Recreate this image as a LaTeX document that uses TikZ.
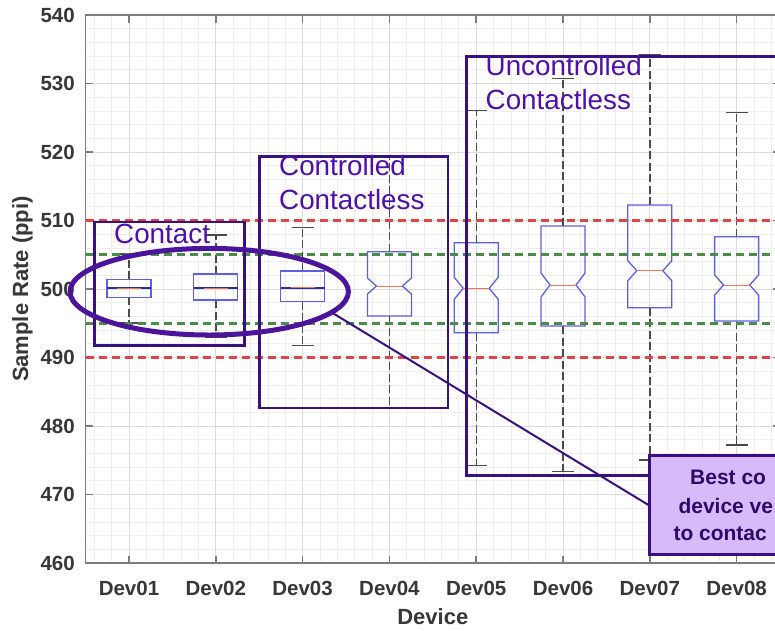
\documentclass[tikz,border=0pt]{standalone}
\usepackage{fontspec}
\setmainfont{Liberation Sans}
\usetikzlibrary{shapes.geometric}
\definecolor{gridminor}{RGB}{238,238,238}
\definecolor{gridmajor}{RGB}{220,220,220}
\definecolor{axisgrey}{RGB}{125,125,125}
\definecolor{labgrey}{RGB}{55,55,55}
\definecolor{refred}{RGB}{222,70,70}
\definecolor{refgreen}{RGB}{75,140,75}
\definecolor{boxblue}{RGB}{95,95,225}
\definecolor{medblue}{RGB}{45,45,150}
\definecolor{medred}{RGB}{240,120,90}
\definecolor{whiskgrey}{RGB}{75,75,75}
\definecolor{annoline}{RGB}{58,16,128}
\definecolor{annotext}{RGB}{78,16,168}
\definecolor{ellcol}{RGB}{75,20,155}
\definecolor{callfill}{RGB}{215,186,250}
\definecolor{calltext}{RGB}{45,10,106}
\newcommand\plainbox[6]{%
  \draw[whisk] (#1,#2) -- (#1,#5);
  \draw[whisk] (#1,#3) -- (#1,#6);
  \draw[capline] ({#1-11},#5) -- ({#1+11},#5);
  \draw[capline] ({#1-11},#6) -- ({#1+11},#6);
  \draw[boxline] ({#1-22},#2) rectangle ({#1+22},#3);
  \draw[medblue, line width=2pt] ({#1-22},#4) -- ({#1+22},#4);
  \draw[medred, line width=0.7pt] ({#1-12},#4) -- ({#1+12},#4);
}
\newcommand\notchbox[7]{%
  \draw[whisk] (#1,#2) -- (#1,#6);
  \draw[whisk] (#1,#3) -- (#1,#7);
  \draw[capline] ({#1-11},#6) -- ({#1+11},#6);
  \draw[capline] ({#1-11},#7) -- ({#1+11},#7);
  \draw[boxline] ({#1-22},#2) -- ({#1+22},#2) -- ({#1+22},{#4-#5}) -- ({#1+13},#4)
     -- ({#1+22},{#4+#5}) -- ({#1+22},#3) -- ({#1-22},#3) -- ({#1-22},{#4+#5})
     -- ({#1-13},#4) -- ({#1-22},{#4-#5}) -- cycle;
  \draw[medred, line width=1pt] ({#1-13},#4) -- ({#1+13},#4);
}
\begin{document}
\begin{tikzpicture}[x=1pt,y=-1pt,
  minorgrid/.style={gridminor, line width=0.8pt},
  majorgrid/.style={gridmajor, line width=1pt},
  axisline/.style={axisgrey, line width=1.6pt},
  ticklab/.style={text=labgrey, font=\fontsize{20.5}{24}\selectfont\bfseries, inner sep=0pt},
  axlab/.style={text=labgrey, font=\fontsize{22}{26}\selectfont\bfseries, inner sep=0pt},
  whisk/.style={whiskgrey, line width=1.4pt, dash pattern=on 8pt off 3.5pt},
  capline/.style={whiskgrey, line width=1.4pt},
  boxline/.style={boxblue, line width=1.3pt},
  redref/.style={refred, line width=2.6pt, dash pattern=on 8pt off 5pt},
  greenref/.style={refgreen, line width=2.6pt, dash pattern=on 8pt off 5pt},
  annobox/.style={draw=annoline, line width=2.5pt, inner sep=0pt},
  annolab/.style={text=annotext, font=\fontsize{27.8}{33}\selectfont, inner sep=0pt, anchor=base west},
  ellmark/.style={draw=ellcol, line width=5pt, ellipse, inner sep=0pt},
  conn/.style={draw=annoline, line width=2pt},
  calloutbox/.style={draw=annoline, fill=callfill, line width=2.5pt, inner sep=0pt},
  calllab/.style={text=calltext, font=\fontsize{21}{28}\selectfont\bfseries, inner sep=0pt, anchor=base west}
]
\useasboundingbox (0,0) rectangle (775,630);
\fill[white] (0,0) rectangle (775,630);
\begin{scope}
\clip (0,0) rectangle (775,630);
% minor grid
\foreach \k in {0,...,39} \draw[minorgrid] ({94.3+17.36*\k},15) -- ({94.3+17.36*\k},563);
\foreach \k in {1,...,39} \draw[minorgrid] (85.6,{15+13.7*\k}) -- (780,{15+13.7*\k});
% major grid
\foreach \k in {0,...,7} \draw[majorgrid] ({129+86.8*\k},15) -- ({129+86.8*\k},563);
\foreach \k in {1,...,7} \draw[majorgrid] (85.6,{15+68.5*\k}) -- (780,{15+68.5*\k});
% axes box and ticks
\draw[axisline] (85.6,15) rectangle (780,563);
\foreach \k in {0,...,7} {
  \draw[axisline] ({129+86.8*\k},563) -- ({129+86.8*\k},555.5);
  \draw[axisline] ({129+86.8*\k},15) -- ({129+86.8*\k},22.5);
}
\foreach \k in {1,...,7} {
  \draw[axisline] (85.6,{15+68.5*\k}) -- (93,{15+68.5*\k});
  \draw[axisline] (780,{15+68.5*\k}) -- (772.5,{15+68.5*\k});
}
% boxplots
\plainbox{129}{279.3}{297.3}{288.3}{254}{323}
\plainbox{215.8}{274}{300}{288.3}{235}{337.5}
\plainbox{302.6}{271}{301.7}{287.5}{227.5}{345.7}
\notchbox{389.4}{251.7}{316}{286}{8}{156.5}{407.7}
\notchbox{476.2}{242.7}{332.7}{288.3}{11}{110.7}{465.7}
\notchbox{563}{226}{326}{285}{12}{78.3}{471.7}
\notchbox{649.8}{205}{307.7}{270.7}{10}{55}{460}
\notchbox{736.6}{236.7}{321}{285}{10}{112.3}{445}
% reference lines
\draw[redref] (85.6,220.5) -- (780,220.5);
\draw[redref] (85.6,357.5) -- (780,357.5);
\draw[greenref] (85.6,254.2) -- (780,254.2);
\draw[greenref] (85.6,323.2) -- (780,323.2);
% tick labels
\foreach \v/\y in {540/15,530/83.5,520/152,510/220.5,500/289,490/357.5,480/426,470/494.5,460/563}
  \node[ticklab, anchor=east] (yl\v) at (75,\y) {\v};
\foreach \i in {1,...,8}
  \node[ticklab, anchor=base] (xl\i) at ({129+86.8*(\i-1)},595) {Dev0\i};
\node[axlab, anchor=base] (xlabel) at (432.8,624.5) {Device};
\node[axlab, rotate=90, anchor=base] (ylabel) at (28,289) {Sample Rate (ppi)};
% annotation boxes
\node[annobox, minimum width=150pt, minimum height=123.3pt, anchor=north west] (contactbox) at (93.3,220.7) {};
\node[annobox, minimum width=188.4pt, minimum height=251.7pt, anchor=north west] (ctrlbox) at (258.3,155) {};
\node[annobox, minimum width=330pt, minimum height=419pt, anchor=north west] (unctrlbox) at (465,55) {};
\node[annolab] (contactlab) at (114,243.3) {Contact};
\node[annolab] (ctrllab1) at (279,175.7) {Controlled};
\node[annolab] (ctrllab2) at (279,209) {Contactless};
\node[annolab] (unctrllab1) at (485.5,75) {Uncontrolled};
\node[annolab] (unctrllab2) at (485.5,109) {Contactless};
% highlight ellipse and callout
\node[ellmark, minimum width=278.4pt, minimum height=86.6pt] (ell) at (209.2,291.7) {};
\node[calloutbox, minimum width=170pt, minimum height=99.3pt, anchor=north west] (callout) at (648.3,454) {};
\draw[conn] (ell.-10) -- (callout.west);
\node[calllab] (call1) at (690,484.3) {Best co};
\node[calllab] (call2) at (678.3,513.3) {device ve};
\node[calllab] (call3) at (673.3,540.7) {to contac};
\end{scope}
\end{tikzpicture}
\end{document}
